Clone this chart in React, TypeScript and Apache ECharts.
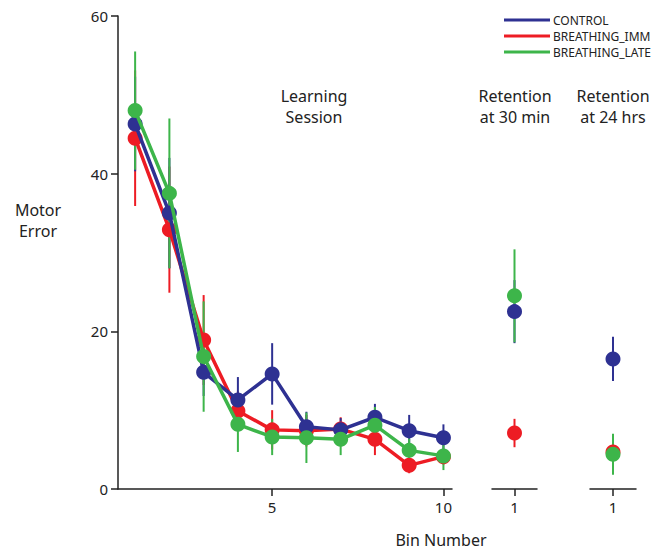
import React, { useEffect, useRef } from "react";
import * as echarts from "echarts";

const bins = [1, 2, 3, 4, 5, 6, 7, 8, 9, 10];
const groupNames = ["CONTROL", "BREATHING_IMM", "BREATHING_LATE"];
const groupColors = ["#2E3192", "#ED1C24", "#3DB54A"];

const controlMean = [46.3, 35.0, 14.8, 11.3, 14.6, 7.9, 7.5, 9.1, 7.4, 6.5];
const controlErr = [6, 7, 3, 2.9, 3.9, 1.9, 1.5, 1.7, 2, 1.7];
const immMean = [44.5, 32.9, 18.9, 9.9, 7.5, 7.4, 7.6, 6.3, 3.0, 4.1];
const immErr = [8.6, 8, 5.7, 2.5, 2.5, 2, 1.5, 2, 1, 1];
const lateMean = [48.0, 37.5, 16.8, 8.2, 6.6, 6.5, 6.3, 8.1, 4.9, 4.2];
const lateErr = [7.5, 9.5, 7, 3.5, 2.3, 3.2, 2, 2.3, 1.5, 1.8];

// retention values, order: CONTROL, BREATHING_IMM, BREATHING_LATE
const ret30Mean = [22.5, 7.1, 24.5];
const ret30Err = [4, 1.8, 5.9];
const ret24Mean = [16.5, 4.7, 4.4];
const ret24Err = [2.8, 1, 2.6];

const mainTicks = [5, 10];
const retTicks = [1];
const yTicks = { min: 0, max: 60, interval: 20 };

const FONT = "'Noto Sans', sans-serif";
const AXIS_COLOR = "#222";

export default function App() {
  const ref = useRef<HTMLDivElement>(null);

  useEffect(() => {
    if (!ref.current) return;
    const chart = echarts.init(ref.current, undefined, { renderer: "svg" });

    const means = [controlMean, immMean, lateMean];
    const errs = [controlErr, immErr, lateErr];

    const errSeries = (
      name: string,
      color: string,
      data: number[][],
      axisIdx: number
    ) => ({
      type: "custom",
      name,
      xAxisIndex: axisIdx,
      yAxisIndex: axisIdx,
      z: 1,
      silent: true,
      itemStyle: { color },
      data,
      renderItem: (_p: any, api: any) => {
        const x = api.value(0);
        const lo = api.value(1);
        const hi = api.value(2);
        const a = api.coord([x, lo]);
        const b = api.coord([x, hi]);
        return {
          type: "line",
          shape: { x1: a[0], y1: a[1], x2: b[0], y2: b[1] },
          style: { stroke: color, lineWidth: 2 },
        };
      },
    });

    const series: any[] = [];
    // error bars first
    [1, 0, 2].forEach((g) => {
      series.push(
        errSeries(
          groupNames[g],
          groupColors[g],
          bins.map((b, i) => [b, means[g][i] - errs[g][i], means[g][i] + errs[g][i]]),
          0
        )
      );
      series.push(
        errSeries(groupNames[g], groupColors[g], [[1, ret30Mean[g] - ret30Err[g], ret30Mean[g] + ret30Err[g]]], 1)
      );
      series.push(
        errSeries(groupNames[g], groupColors[g], [[1, ret24Mean[g] - ret24Err[g], ret24Mean[g] + ret24Err[g]]], 2)
      );
    });
    // lines and points: red, blue, green order
    [1, 0, 2].forEach((g, k) => {
      series.push({
        type: "line",
        name: groupNames[g],
        xAxisIndex: 0,
        yAxisIndex: 0,
        z: 3 + k,
        data: bins.map((b, i) => [b, means[g][i]]),
        symbol: "circle",
        symbolSize: 15,
        itemStyle: { color: groupColors[g] },
        lineStyle: { color: groupColors[g], width: 3.5 },
      });
      series.push({
        type: "scatter",
        name: groupNames[g],
        xAxisIndex: 1,
        yAxisIndex: 1,
        z: 3 + k,
        data: [[1, ret30Mean[g]]],
        symbolSize: 15,
        itemStyle: { color: groupColors[g], opacity: 1 },
      });
      series.push({
        type: "scatter",
        name: groupNames[g],
        xAxisIndex: 2,
        yAxisIndex: 2,
        z: 3 + k,
        data: [[1, ret24Mean[g]]],
        symbolSize: 15,
        itemStyle: { color: groupColors[g], opacity: 1 },
      });
    });

    const gridTop = 16;
    const gridH = 473;
    const xAxisBase = (gridIndex: number, min: number, max: number, ticks: number[]) => ({
      type: "value",
      gridIndex,
      min,
      max,
      axisLine: { show: true, onZero: false, lineStyle: { color: AXIS_COLOR, width: 1.5 } },
      axisTick: {
        show: true,
        customValues: ticks,
        length: 7,
        lineStyle: { color: AXIS_COLOR, width: 1.5 },
      },
      axisLabel: {
        show: true,
        customValues: ticks,
        color: "#222",
        fontSize: 15,
        fontFamily: FONT,
        margin: 10,
      },
      splitLine: { show: false },
    });
    const yAxisBase = (gridIndex: number, show: boolean) => ({
      type: "value",
      gridIndex,
      min: yTicks.min,
      max: yTicks.max,
      interval: yTicks.interval,
      show,
      axisLine: { show: true, lineStyle: { color: AXIS_COLOR, width: 1.5 } },
      axisTick: { show: true, length: 7, lineStyle: { color: AXIS_COLOR, width: 1.5 } },
      axisLabel: { color: "#222", fontSize: 15, fontFamily: FONT, margin: 10 },
      splitLine: { show: false },
    });

    const textEl = (text: string, x: number, y: number, size = 16) => ({
      type: "text",
      x,
      y,
      style: {
        text,
        fill: "#222",
        font: `${size}px ${FONT}`,
        textAlign: "center",
        textVerticalAlign: "top",
        lineHeight: 21,
      },
    });

    chart.setOption({
      animation: false,
      backgroundColor: "#fff",
      legend: {
        data: groupNames,
        orient: "vertical",
        left: 499,
        top: 9,
        icon: "rect",
        itemWidth: 46,
        itemHeight: 3,
        itemGap: 4,
        textStyle: { fontSize: 12, fontFamily: FONT, color: "#222", padding: [0, 0, 0, -2] },
        selectedMode: false,
      },
      grid: [
        { left: 118, top: gridTop, width: 334, height: gridH },
        { left: 492, top: gridTop, width: 45, height: gridH },
        { left: 590, top: gridTop, width: 46, height: gridH },
      ],
      xAxis: [
        xAxisBase(0, 0.5, 10.25, mainTicks),
        xAxisBase(1, 0, 2, retTicks),
        xAxisBase(2, 0, 2, retTicks),
      ],
      yAxis: [yAxisBase(0, true), yAxisBase(1, false), yAxisBase(2, false)],
      graphic: [
        textEl("Learning\nSession", 314, 85),
        textEl("Retention\nat 30 min", 515, 85),
        textEl("Retention\nat 24 hrs", 613, 85),
        textEl("Motor\nError", 38, 199),
        textEl("Bin Number", 441, 529),
      ],
      series,
    });

    return () => chart.dispose();
  }, []);

  return (
    <div
      ref={ref}
      style={{ position: "fixed", left: 0, top: 0, width: 654, height: 549, background: "#fff" }}
    />
  );
}
